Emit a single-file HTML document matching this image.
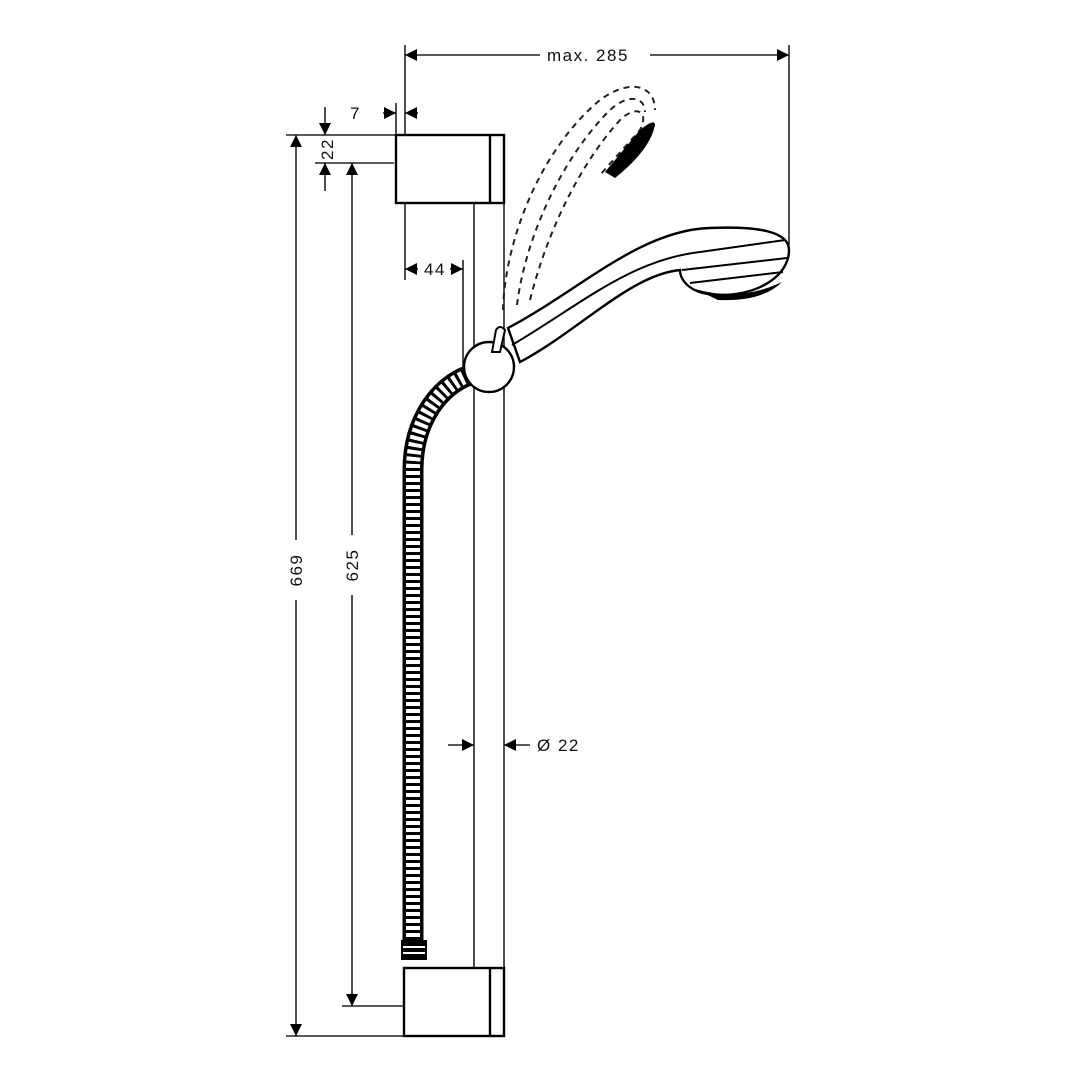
<!DOCTYPE html>
<html><head><meta charset="utf-8"><style>
html,body{margin:0;padding:0;background:#fff;width:1080px;height:1080px;overflow:hidden}
svg{display:block}
text{font-family:"Liberation Sans",sans-serif;font-size:17px;fill:#111;letter-spacing:1.5px}
</style></head><body>
<svg width="1080" height="1080" viewBox="0 0 1080 1080" xmlns="http://www.w3.org/2000/svg">
<defs>
<marker id="a" viewBox="0 0 10 10" refX="10" refY="5" markerWidth="12" markerHeight="12" markerUnits="userSpaceOnUse" orient="auto-start-reverse"><path d="M0,0L10,5L0,10z" fill="#000"/></marker>
</defs>
<g stroke="#222" stroke-width="1.6" fill="none">
<line x1="405" y1="45" x2="405" y2="280"/>
<line x1="789" y1="45" x2="789" y2="245"/>
<line x1="396" y1="103" x2="396" y2="135"/>
<line x1="286" y1="135" x2="396" y2="135"/>
<line x1="315" y1="163" x2="394" y2="163"/>
<line x1="286" y1="1036" x2="404" y2="1036"/>
<line x1="342" y1="1006" x2="404" y2="1006"/>
<line x1="463" y1="260" x2="463" y2="380"/>
<line x1="405" y1="55" x2="540" y2="55" marker-start="url(#a)"/>
<line x1="650" y1="55" x2="789" y2="55" marker-end="url(#a)"/>
<line x1="383" y1="113" x2="396" y2="113" marker-end="url(#a)"/>
<line x1="418" y1="113" x2="405" y2="113" marker-end="url(#a)"/>
<line x1="325" y1="107" x2="325" y2="135" marker-end="url(#a)"/>
<line x1="325" y1="191" x2="325" y2="163" marker-end="url(#a)"/>
<line x1="296" y1="135" x2="296" y2="540" marker-start="url(#a)"/>
<line x1="296" y1="600" x2="296" y2="1036" marker-end="url(#a)"/>
<line x1="352" y1="163" x2="352" y2="535" marker-start="url(#a)"/>
<line x1="352" y1="595" x2="352" y2="1006" marker-end="url(#a)"/>
<line x1="405" y1="269" x2="418" y2="269" marker-start="url(#a)"/>
<line x1="450" y1="269" x2="463" y2="269" marker-end="url(#a)"/>
<line x1="448" y1="745" x2="474" y2="745" marker-end="url(#a)"/>
<line x1="530" y1="745" x2="504" y2="745" marker-end="url(#a)"/>
<line x1="474" y1="203" x2="474" y2="968"/>
<line x1="504" y1="135" x2="504" y2="1036"/>
</g>
<g stroke="#000" stroke-width="2.4" fill="#fff">
<rect x="396" y="135" width="108" height="68"/>
<line x1="490" y1="135" x2="490" y2="203"/>
<rect x="404" y="968" width="100" height="68"/>
<line x1="490" y1="968" x2="490" y2="1036"/>
</g>
<g stroke="#222" stroke-width="2" fill="none" stroke-dasharray="6 5">
<path d="M503,310 C505,240 540,150 600,100 C630,78 655,85 655,110"/>
<path d="M517,305 C525,240 560,160 610,110 C630,92 645,98 645,112"/>
<path d="M530,300 C545,240 575,170 620,120 C635,105 650,110 640,130 L600,175"/>
</g>
<path d="M605,172 L640,130 Q655,118 655,125 Q650,150 615,178 Z" fill="#000"/>
<path d="M470,375 C440,385 413,420 413,470 L413,940" stroke="#000" stroke-width="21" fill="none"/>
<path d="M470,375 C440,385 413,420 413,470 L413,940" stroke="#fff" stroke-width="14" fill="none" stroke-dasharray="4 3"/>
<rect x="401" y="940" width="26" height="20" fill="#000"/>
<line x1="403" y1="947" x2="425" y2="947" stroke="#fff" stroke-width="2"/>
<line x1="403" y1="953" x2="425" y2="953" stroke="#fff" stroke-width="2"/>
<g stroke="#000" stroke-width="2.4" fill="#fff">
<path d="M508,328 C580,290 640,230 710,228 C760,226 789,232 789,250 C789,275 760,295 720,295 C690,295 680,280 680,270 C630,275 580,330 520,362 Z"/>
</g>
<g stroke="#000" stroke-width="2" fill="none">
<path d="M512,345 C580,305 630,260 700,252 L785,240"/>
<path d="M682,270 L787,258"/>
<path d="M690,283 L783,272"/>
</g>
<path d="M695,289 Q740,302 782,282 Q762,302 718,300 Z" fill="#000"/>
<circle cx="489" cy="367" r="25" fill="#fff" stroke="#000" stroke-width="2.4"/>
<path d="M492,352 L496,330 Q500,324 505,330 L500,352 Z" fill="#fff" stroke="#000" stroke-width="2"/>
<text x="547" y="61">max. 285</text>
<text x="350" y="119">7</text>
<text x="424" y="275">44</text>
<text x="537" y="751">Ø 22</text>
<text transform="translate(333,149) rotate(-90)" text-anchor="middle">22</text>
<text transform="translate(302,570) rotate(-90)" text-anchor="middle">669</text>
<text transform="translate(358,565) rotate(-90)" text-anchor="middle">625</text>
</svg>
</body></html>
